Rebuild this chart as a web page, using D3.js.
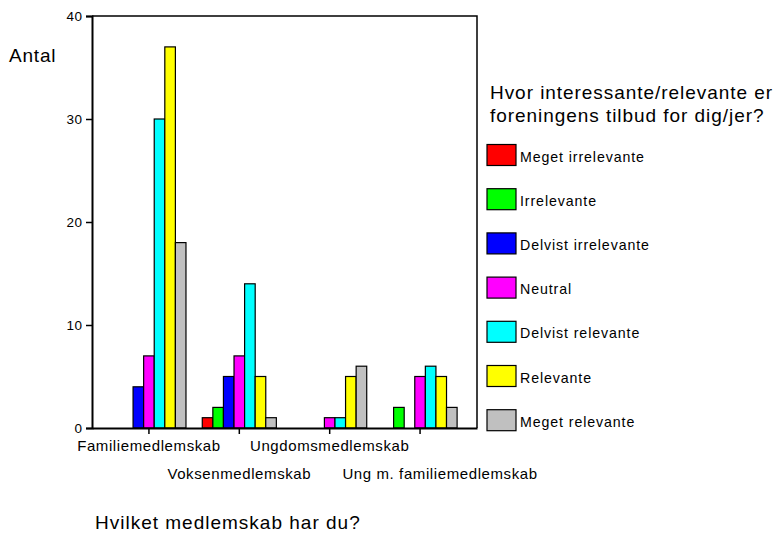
<!DOCTYPE html>
<html>
<head>
<meta charset="utf-8">
<script src="https://cdn.jsdelivr.net/npm/d3@7"></script>
<style>
  html, body { margin: 0; padding: 0; background: #fff; }
  text { font-family: Arial, "Liberation Sans", sans-serif; fill: #000; }
</style>
</head>
<body>
<svg id="chart" width="777" height="535"></svg>
<script>
const categories = ["Familiemedlemskab", "Voksenmedlemskab", "Ungdomsmedlemskab", "Ung m. familiemedlemskab"];
const seriesNames = ["Meget irrelevante", "Irrelevante", "Delvist irrelevante", "Neutral", "Delvist relevante", "Relevante", "Meget relevante"];
const seriesColors = ["#ff0000", "#00ff00", "#0000ff", "#ff00ff", "#00ffff", "#ffff00", "#c0c0c0"];
// values per series, one per category
const megetIrrelevante = [0, 1, 0, 0];
const irrelevante      = [0, 2, 0, 2];
const delvistIrrelev   = [4, 5, 0, 0];
const neutral          = [7, 7, 1, 5];
const delvistRelevante = [30, 14, 1, 6];
const relevante        = [37, 5, 5, 5];
const megetRelevante   = [18, 1, 6, 2];
const yTicks = [0, 10, 20, 30, 40];
const yLabel = "Antal";
const xTitle = "Hvilket medlemskab har du?";
const legendTitle = ["Hvor interessante/relevante er", "foreningens tilbud for dig/jer?"];

const seriesValues = [megetIrrelevante, irrelevante, delvistIrrelev, neutral, delvistRelevante, relevante, megetRelevante];

(function () {
const svg = d3.select("#chart");
const pL = 92, pR = 477, pT = 16, pB = 428;

const x0 = d3.scaleBand().domain(categories).range([pL, pR]).paddingInner(0).paddingOuter(0.13);
const x1 = d3.scaleBand().domain(seriesNames).range([0, x0.bandwidth()]).paddingInner(0).paddingOuter(0.77);
const y = d3.scaleLinear().domain([0, 40]).range([pB, pT]);

// frame (top and right)
svg.append("path")
  .attr("d", `M${pL},${pT}H${pR}V${pB}`)
  .attr("fill", "none").attr("stroke", "#000").attr("stroke-width", 1.5);

// bars
const data = [];
seriesNames.forEach((s, si) => {
  categories.forEach((c, ci) => {
    const v = seriesValues[si][ci];
    if (v > 0) data.push({s, c, v, color: seriesColors[si]});
  });
});
svg.append("g").selectAll("rect").data(data).join("rect")
  .attr("x", d => x0(d.c) + x1(d.s))
  .attr("y", d => y(d.v))
  .attr("width", x1.bandwidth())
  .attr("height", d => y(0) - y(d.v))
  .attr("fill", d => d.color)
  .attr("stroke", "#000").attr("stroke-width", 1.2);

// y axis
const yAxis = svg.append("g").attr("transform", `translate(${pL},0)`)
  .call(d3.axisLeft(y).tickValues(yTicks).tickSize(6).tickPadding(3.5));
yAxis.select(".domain").attr("stroke-width", 2);
yAxis.selectAll(".tick line").attr("stroke-width", 1.5);
yAxis.selectAll("text").attr("font-size", 13.5).style("letter-spacing", "0.5px")
  .attr("font-family", "Arial, 'Liberation Sans', sans-serif");

// x axis
const xAxis = svg.append("g").attr("transform", `translate(0,${pB})`)
  .call(d3.axisBottom(x0).tickSize(6).tickSizeOuter(0).tickFormat(""));
xAxis.select(".domain").attr("stroke-width", 2);
xAxis.selectAll(".tick line").attr("stroke-width", 1.5);

// category labels staggered (last one nudged right as in the original)
const n = categories.length;
svg.append("g").selectAll("text").data(categories).join("text")
  .attr("x", (d, i) => x0(d) + x0.bandwidth() / 2 + (i === n - 1 ? 20 : 0))
  .attr("y", (d, i) => i % 2 === 0 ? 450.7 : 478.5)
  .attr("text-anchor", "middle")
  .attr("font-size", 15)
  .style("letter-spacing", "0.6px")
  .text(d => d);

// y label
svg.append("text").attr("x", 9).attr("y", 62).attr("font-size", 19)
  .style("letter-spacing", "0.8px").text(yLabel);

// x title
svg.append("text").attr("x", 95).attr("y", 529).attr("font-size", 19)
  .style("letter-spacing", "1px").text(xTitle);

// legend
const lg = svg.append("g");
lg.selectAll("text.title").data(legendTitle).join("text").attr("class", "title")
  .attr("x", 490).attr("y", (d, i) => 98.5 + i * 23.5)
  .attr("font-size", 19).style("letter-spacing", "0.95px").text(d => d);
const items = lg.selectAll("g.item").data(seriesNames).join("g").attr("class", "item")
  .attr("transform", (d, i) => `translate(487,${144.5 + i * 44.2})`);
items.append("rect").attr("width", 29).attr("height", 21)
  .attr("fill", (d, i) => seriesColors[i]).attr("stroke", "#000").attr("stroke-width", 1.2);
items.append("text").attr("x", 33).attr("y", 17).attr("font-size", 14.2)
  .style("letter-spacing", "0.9px").text(d => d);
})();
</script>
</body>
</html>
